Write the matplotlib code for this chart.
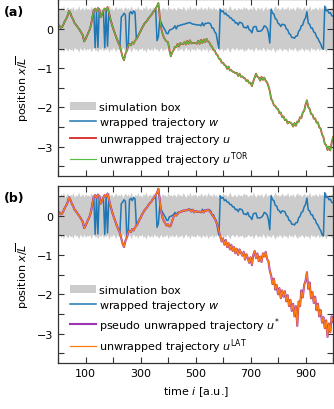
import numpy as np
import matplotlib
matplotlib.use("Agg")
import matplotlib.pyplot as plt
from matplotlib.ticker import FixedLocator, NullFormatter

plt.rcParams['font.family'] = ['DejaVu Sans']
plt.rcParams['mathtext.fontset'] = 'dejavusans'
plt.rcParams['font.size'] = 8

# time grid (step 5)
time = np.arange(0, 1001, 5)

# simulation box half width (units of mean L)
box_half = [
    0.53,0.48,0.56,0.50,0.59,0.47,0.52,0.57,0.49,0.54,
    0.51,0.58,0.46,0.53,0.50,0.60,0.48,0.52,0.55,0.47,
    0.56,0.50,0.53,0.48,0.58,0.51,0.47,0.55,0.52,0.59,
    0.49,0.54,0.47,0.57,0.51,0.53,0.48,0.60,0.50,0.55,
    0.47,0.52,0.58,0.49,0.54,0.51,0.56,0.46,0.53,0.57,
    0.50,0.55,0.48,0.59,0.52,0.47,0.54,0.50,0.58,0.49,
    0.53,0.47,0.56,0.51,0.60,0.48,0.52,0.55,0.49,0.57,
    0.46,0.54,0.50,0.58,0.52,0.48,0.56,0.51,0.53,0.47,
    0.59,0.50,0.54,0.48,0.55,0.52,0.47,0.57,0.51,0.53,
    0.49,0.58,0.52,0.46,0.55,0.50,0.60,0.48,0.54,0.51,
    0.56,0.47,0.53,0.50,0.58,0.49,0.52,0.55,0.47,0.59,
    0.51,0.54,0.48,0.57,0.50,0.53,0.46,0.56,0.52,0.49,
    0.58,0.51,0.55,0.47,0.53,0.60,0.50,0.48,0.54,0.52,
    0.47,0.56,0.50,0.53,0.49,0.58,0.52,0.55,0.48,0.51,
    0.54,0.49,0.59,0.51,0.47,0.55,0.53,0.50,0.57,0.46,
    0.52,0.58,0.48,0.54,0.51,0.56,0.47,0.53,0.60,0.50,
    0.55,0.48,0.52,0.57,0.49,0.53,0.51,0.59,0.47,0.54,
    0.50,0.56,0.46,0.53,0.58,0.51,0.55,0.48,0.52,0.57,
    0.49,0.54,0.51,0.60,0.47,0.53,0.50,0.56,0.52,0.48,
    0.57,0.50,0.55,0.49,0.53,0.59,0.48,0.54,0.51,0.56,
    0.52]

# wrapped trajectory w
w_traj = [
    0.10, 0.08, 0.03, 0.05, 0.12, 0.20, 0.26, 0.34, 0.46, 0.40,
    0.30, 0.24, 0.15, 0.11, 0.06, 0.01, -0.04, -0.10, -0.16, -0.32,
    -0.26, -0.18, -0.10, -0.02, 0.10, 0.30, 0.48, -0.48, 0.45, -0.47,
    0.50, 0.30, 0.36, 0.47, -0.48, 0.48, -0.44, 0.42, 0.26, 0.14,
    0.02, -0.08, -0.18, -0.28, -0.36, -0.44, 0.30, 0.34, 0.40, 0.36,
    -0.50, -0.46, 0.40, 0.44, 0.38, 0.46, 0.42, -0.26, -0.20, -0.12,
    -0.06, 0.02, 0.08, 0.14, 0.18, 0.22, 0.28, 0.32, 0.36, 0.42,
    0.46, 0.52, -0.30, -0.20, 0.24, 0.16, 0.08, 0.02, -0.04, -0.12,
    -0.12, -0.03, -0.02, 0.00, 0.02, 0.08, 0.00, 0.08, 0.08, 0.10,
    0.10, 0.12, 0.12, 0.14, 0.14, 0.16, 0.16, 0.14, 0.12, 0.12,
    0.11, 0.10, 0.10, 0.10, 0.08, 0.16, 0.08, 0.14, 0.14, 0.15,
    0.15, 0.12, 0.02, 0.02, -0.08, -0.12, -0.32, -0.50, 0.50, 0.44,
    0.46, 0.38, 0.40, 0.34, 0.34, 0.28, 0.28, 0.22, 0.22, 0.15,
    0.16, 0.10, 0.17, 0.16, 0.14, 0.04, 0.04, 0.02, 0.08, -0.02,
    -0.04, -0.10, 0.04, 0.06, 0.06, -0.06, -0.06, -0.06, -0.04, 0.00,
    0.08, 0.06, 0.02, -0.10, -0.36, 0.50, 0.40, 0.38, 0.26, 0.24,
    0.14, 0.12, 0.06, 0.12, 0.11, 0.10, 0.00, -0.02, -0.12, -0.14,
    -0.22, -0.22, -0.24, -0.18, -0.18, -0.06, -0.02, 0.08, 0.10, 0.22,
    0.28, 0.44, 0.14, 0.12, 0.02, 0.02, -0.08, -0.10, -0.20, -0.24,
    -0.32, -0.38, -0.48, -0.52, 0.58, 0.46, 0.48, 0.40, 0.42, 0.34,
    0.32]

# unwrapped trajectory u (panel a), u_TOR drawn identically
u_tor = [
    0.10, 0.08, 0.03, 0.05, 0.12, 0.20, 0.26, 0.34, 0.46, 0.40,
    0.30, 0.24, 0.15, 0.11, 0.06, 0.01, -0.04, -0.10, -0.16, -0.32,
    -0.26, -0.18, -0.10, -0.02, 0.10, 0.30, 0.48, 0.52, 0.45, 0.53,
    0.50, 0.30, 0.36, 0.47, 0.52, 0.48, 0.56, 0.42, 0.26, 0.14,
    0.02, -0.08, -0.18, -0.28, -0.36, -0.44, -0.58, -0.72, -0.80, -0.64,
    -0.56, -0.42, -0.38, -0.42, -0.34, -0.38, -0.30, -0.26, -0.20, -0.12,
    -0.06, 0.02, 0.08, 0.14, 0.18, 0.22, 0.28, 0.32, 0.36, 0.42,
    0.46, 0.52, 0.58, 0.66, 0.30, 0.02, -0.12, -0.22, -0.28, -0.32,
    -0.34, -0.52, -0.70, -0.60, -0.54, -0.46, -0.46, -0.38, -0.45, -0.36,
    -0.38, -0.39, -0.33, -0.40, -0.30, -0.38, -0.29, -0.37, -0.36, -0.36,
    -0.36, -0.38, -0.30, -0.38, -0.28, -0.36, -0.27, -0.34, -0.25, -0.32,
    -0.34, -0.42, -0.45, -0.54, -0.55, -0.64, -0.67, -0.76, -0.77, -0.86,
    -0.86, -0.92, -0.94, -1.02, -0.96, -1.06, -1.05, -1.09, -1.10, -1.13,
    -1.12, -1.20, -1.14, -1.22, -1.21, -1.25, -1.26, -1.33, -1.31, -1.38,
    -1.37, -1.46, -1.34, -1.24, -1.14, -1.22, -1.24, -1.32, -1.22, -1.30,
    -1.24, -1.32, -1.36, -1.46, -1.58, -1.78, -1.84, -1.95, -1.96, -2.03,
    -2.04, -2.15, -2.13, -2.25, -2.23, -2.33, -2.31, -2.41, -2.37, -2.39,
    -2.42, -2.49, -2.40, -2.47, -2.36, -2.37, -2.25, -2.27, -2.13, -2.09,
    -1.93, -1.82, -1.99, -2.04, -2.17, -2.18, -2.29, -2.28, -2.39, -2.38,
    -2.51, -2.54, -2.69, -2.76, -2.93, -2.96, -3.09, -3.00, -3.10, -2.90,
    -2.76]

# unwrapped trajectory u_LAT (panel b), pseudo u* drawn identically
u_lat = [
    0.10, 0.08, 0.03, 0.05, 0.12, 0.20, 0.26, 0.34, 0.46, 0.40,
    0.30, 0.24, 0.15, 0.11, 0.06, 0.01, -0.04, -0.10, -0.16, -0.32,
    -0.26, -0.18, -0.10, -0.02, 0.10, 0.30, 0.48, 0.52, 0.45, 0.53,
    0.50, 0.30, 0.36, 0.47, 0.52, 0.48, 0.56, 0.42, 0.26, 0.14,
    0.02, -0.08, -0.18, -0.28, -0.36, -0.44, -0.58, -0.72, -0.80, -0.64,
    -0.56, -0.42, -0.38, -0.42, -0.34, -0.38, -0.30, -0.26, -0.20, -0.12,
    -0.06, 0.02, 0.08, 0.14, 0.18, 0.22, 0.28, 0.32, 0.36, 0.42,
    0.46, 0.52, 0.58, 0.68, 0.40, 0.10, -0.06, -0.14, -0.20, -0.26,
    -0.22, -0.28, -0.26, -0.14, -0.04, 0.02, 0.00, 0.04, 0.08, 0.10,
    0.10, 0.13, 0.12, 0.14, 0.13, 0.16, 0.14, 0.10, 0.15, 0.08,
    0.12, 0.10, 0.09, 0.10, 0.08, 0.12, 0.08, 0.14, 0.12, 0.15,
    0.12, 0.08, 0.02, -0.03, -0.08, -0.16, -0.24, -0.40, -0.52, -0.66,
    -0.58, -0.74, -0.62, -0.80, -0.70, -0.86, -0.74, -0.90, -0.80, -0.96,
    -0.84, -1.00, -0.86, -0.94, -1.02, -0.92, -1.12, -0.98, -1.08, -1.20,
    -1.06, -1.26, -1.00, -0.90, -1.08, -0.96, -1.16, -1.04, -1.18, -0.96,
    -1.04, -0.92, -1.10, -1.16, -1.40, -1.52, -1.74, -1.60, -1.88, -1.76,
    -2.00, -1.84, -2.10, -1.90, -2.06, -1.92, -2.18, -2.02, -2.30, -2.14,
    -2.42, -2.24, -2.56, -2.30, -2.80, -2.18, -2.30, -1.90, -2.08, -1.76,
    -1.66, -1.44, -1.86, -1.70, -2.10, -1.94, -2.22, -2.06, -2.40, -2.24,
    -2.56, -2.40, -2.72, -2.58, -2.86, -2.66, -3.08, -2.74, -2.96, -2.56,
    -2.70]

x_major = [100, 300, 500, 700, 900]
x_minor = [0, 200, 400, 600, 800, 1000]
y_major = [0, -1, -2, -3]
y_minor = [0.5, -0.5, -1.5, -2.5, -3.5]

box_half = np.array(box_half)

fig = plt.figure(figsize=(3.34, 4.10), dpi=100)
ax_a = fig.add_axes([0.1737, 0.5683, 0.8234, 0.4305])
ax_b = fig.add_axes([0.1737, 0.1115, 0.8234, 0.4324])

BLUE = '#1f77b4'
RED = '#d62728'
GREEN = '#5cbf45'
PURPLE = '#9c34b4'
ORANGE = '#ff7f0e'
GRAY = '#cccccc'

def style(ax):
    ax.set_xlim(0, 1000)
    ax.set_ylim(-3.75, 0.75)
    ax.xaxis.set_major_locator(FixedLocator(x_major))
    ax.xaxis.set_minor_locator(FixedLocator(x_minor))
    ax.yaxis.set_major_locator(FixedLocator(y_major))
    ax.yaxis.set_minor_locator(FixedLocator(y_minor))
    ax.tick_params(which='both', direction='in', top=True, right=True,
                   length=4, width=0.8, color='#333333', labelsize=8)
    for s in ax.spines.values():
        s.set_color('#333333')
        s.set_linewidth(0.9)
    ax.set_ylabel(r'position $x/\overline{L}$', fontsize=8)

def legend(ax):
    ax.legend(loc='lower left', bbox_to_anchor=(0.045, 0.045), frameon=False,
              borderpad=0, borderaxespad=0, handlelength=2.3, handletextpad=0.25,
              labelspacing=0.28, fontsize=8)

# panel a
ax_a.fill_between(time, -box_half, box_half, color=GRAY, lw=0, label='simulation box')
ax_a.plot(time, w_traj, color=BLUE, lw=1.1, label=r'wrapped trajectory $w$')
ax_a.plot(time, u_tor, color=RED, lw=1.3, label=r'unwrapped trajectory $u$')
ax_a.plot(time, u_tor, color=GREEN, lw=0.85, label=r'unwrapped trajectory $u^{\mathrm{TOR}}$')
style(ax_a)
ax_a.xaxis.set_major_formatter(NullFormatter())
legend(ax_a)

# panel b
ax_b.fill_between(time, -box_half, box_half, color=GRAY, lw=0, label='simulation box')
ax_b.plot(time, w_traj, color=BLUE, lw=1.1, label=r'wrapped trajectory $w$')
ax_b.plot(time, u_lat, color=PURPLE, lw=1.5, label=r'pseudo unwrapped trajectory $u^{*}$')
ax_b.plot(time, u_lat, color=ORANGE, lw=0.9, label=r'unwrapped trajectory $u^{\mathrm{LAT}}$')
style(ax_b)
ax_b.set_xlabel(r'time $i$ [a.u.]', fontsize=8)
legend(ax_b)

fig.text(0.012, 0.969, '(a)', fontweight='bold', fontsize=9, va='center', ha='left')
fig.text(0.012, 0.515, '(b)', fontweight='bold', fontsize=9, va='center', ha='left')

fig.savefig('out.png', dpi=100)
